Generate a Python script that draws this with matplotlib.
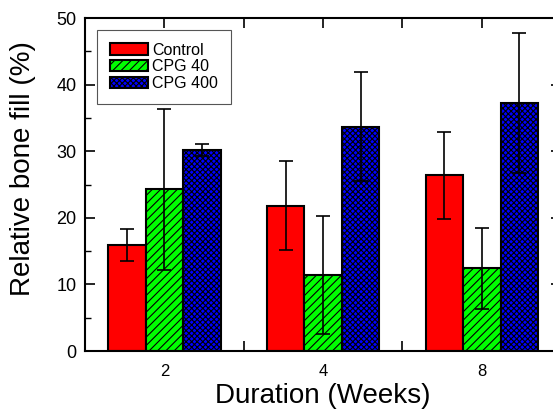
import numpy as np
import matplotlib
matplotlib.use("Agg")
import matplotlib.pyplot as plt
from matplotlib.ticker import MultipleLocator

plt.rcParams['font.family'] = ['Liberation Sans', 'DejaVu Sans']
plt.rcParams['hatch.linewidth'] = 0.8

durations = ["2", "4", "8"]
series = ["Control", "CPG 40", "CPG 400"]
control = [15.9, 21.8, 26.4]
control_err = [2.4, 6.7, 6.5]
cpg40 = [24.3, 11.4, 12.4]
cpg40_err = [12.1, 8.9, 6.1]
cpg400 = [30.2, 33.7, 37.3]
cpg400_err = [0.9, 8.2, 10.5]

values = [control, cpg40, cpg400]
errors = [control_err, cpg40_err, cpg400_err]
colors = ["#FF0000", "#00FF00", "#0000FF"]
hatches = [None, "////", "xxxxxx"]

fig = plt.figure(figsize=(5.53, 4.12), dpi=100)
ax = fig.add_axes([0.1537, 0.148, 0.861, 0.808])

x = np.arange(1, len(durations) + 1)
w = 0.236
for i, (vals, errs) in enumerate(zip(values, errors)):
    pos = x + (i - 1) * w
    ax.bar(pos, vals, width=w, color=colors[i], edgecolor="black",
           linewidth=1.5, hatch=hatches[i], label=series[i], zorder=2)
    ax.errorbar(pos, vals, yerr=errs, fmt="none", ecolor="black",
                elinewidth=1.2, capsize=5, capthick=1.2, zorder=3)

ax.set_xlim(0.5, 3.5)
ax.set_ylim(0, 50)
ax.set_xticks(x)
ax.set_xticklabels(durations, fontsize=12)
ax.set_xticks([1.5, 2.5], minor=True)
ax.yaxis.set_major_locator(MultipleLocator(10))
ax.yaxis.set_minor_locator(MultipleLocator(5))
ax.tick_params(axis="both", which="both", direction="in", top=True, right=True, zorder=4)
ax.tick_params(axis="y", which="major", length=7, width=1.2, labelsize=13, pad=6)
ax.tick_params(axis="y", which="minor", length=4, width=1.0)
ax.tick_params(axis="x", which="both", length=7, width=1.2, pad=9)
for s in ax.spines.values():
    s.set_linewidth(1.5)
    s.set_zorder(5)

ax.set_xlabel("Duration (Weeks)", fontsize=20, labelpad=3)
ax.set_ylabel("Relative bone fill (%)", fontsize=20)
ax.yaxis.set_label_coords(-0.103, 0.548)

leg = ax.legend(loc="upper left", bbox_to_anchor=(0.025, 0.965), fontsize=11.5,
                fancybox=False, framealpha=1, edgecolor="#555555",
                handlelength=2.4, handleheight=0.7, handletextpad=0.25,
                labelspacing=0.12, borderpad=0.8, borderaxespad=0)
leg.get_frame().set_linewidth(0.8)

fig.savefig("out.png", dpi=100)
